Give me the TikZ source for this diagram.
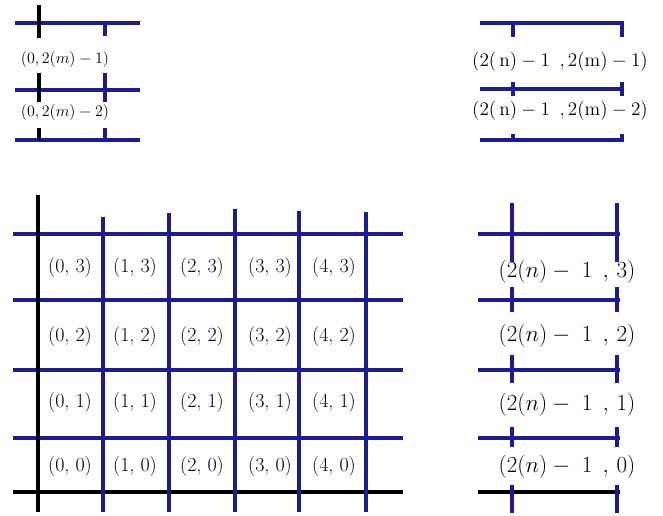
\documentclass[tikz,border=0pt]{standalone}
\usepackage{amsmath}
\definecolor{gridblue}{RGB}{28,28,150}
\begin{document}
\begin{tikzpicture}[x=0.75pt,y=-0.75pt,
  hline/.style={gridblue,line width=3pt},
  hblack/.style={black,line width=2.6pt},
  vline/.style={gridblue,line width=2.3pt},
  vblack/.style={black,line width=2.4pt},
  biglab/.style={inner sep=0pt,font=\fontsize{15}{18}\selectfont},
  rlab/.style={inner sep=0pt,font=\fontsize{16}{19}\selectfont},
  trlab/.style={inner sep=0pt,font=\fontsize{15.5}{18}\selectfont},
  smalllab/.style={inner sep=0pt,font=\fontsize{12}{14}\selectfont}]
\useasboundingbox (0,0) rectangle (663,516);
\fill[white] (0,0) rectangle (663,516);

% ---------- main grid ----------
\foreach \y in {234,300,370,438} \draw[hline] (13,\y) -- (403,\y);
\draw[hblack] (13,492) -- (403,492);
\draw[vblack] (38,195) -- (38,512);
\foreach \x/\t in {103/217,169/213,235/209,299/211,366/212}
  \draw[vline] (\x,\t) -- (\x,512);

\foreach \r/\y in {3/268,2/337,1/403,0/467}
  \foreach \c/\x in {0/70,1/135,2/202,3/270,4/334}
    \node[biglab] (g\c\r) at (\x,\y) {(\c, \r)};

% ---------- top left ----------
\foreach \y in {23,90,140} \draw[hline] (15,\y) -- (140,\y);
\draw[vblack] (39,5) -- (39,38);
\draw[vline] (105,23) -- (105,36);
\draw[vblack] (39,73) -- (39,102);
\draw[vline] (105,73) -- (105,102);
\draw[vblack] (39,128) -- (39,140);
\draw[vline] (105,128) -- (105,140);
\node[smalllab] (tl1) at (65,60) {$(0,2(m)-1)$};
\node[smalllab] (tl2) at (65,113) {$(0,2(m)-2)$};

% ---------- top right ----------
\foreach \y in {23,89,140} \draw[hline] (480,\y) -- (624,\y);
\foreach \x in {513,622} {
  \draw[vline] (\x,23) -- (\x,37);
  \draw[vline] (\x,82) -- (\x,96);
  \draw[vline] (\x,134) -- (\x,140);
}
\node[trlab] (tr1) at (560,62) {$(2(\,\mathrm{n})-1\ \,,2(\mathrm{m})-1)$};
\node[trlab] (tr2) at (560,111) {$(2(\,\mathrm{n})-1\ \,,2(\mathrm{m})-2)$};

% ---------- bottom right ----------
\foreach \y in {234,300,370,438} \draw[hline] (478,\y) -- (620,\y);
\draw[hblack] (478,492) -- (620,492);
\foreach \x in {512,617} {
  \draw[vline] (\x,203) -- (\x,262);
  \draw[vline] (\x,287) -- (\x,312);
  \draw[vline] (\x,355) -- (\x,383);
  \draw[vline] (\x,427) -- (\x,447);
  \draw[vline] (\x,485) -- (\x,513);
}
\node[rlab] (br3) at (567,272) {$(2(n)-\;1\ \,,\,3)$};
\node[rlab] (br2) at (567,336) {$(2(n)-\;1\ \,,\,2)$};
\node[rlab] (br1) at (567,405) {$(2(n)-\;1\ \,,\,1)$};
\node[rlab] (br0) at (567,467) {$(2(n)-\;1\ \,,\,0)$};
\end{tikzpicture}
\end{document}
